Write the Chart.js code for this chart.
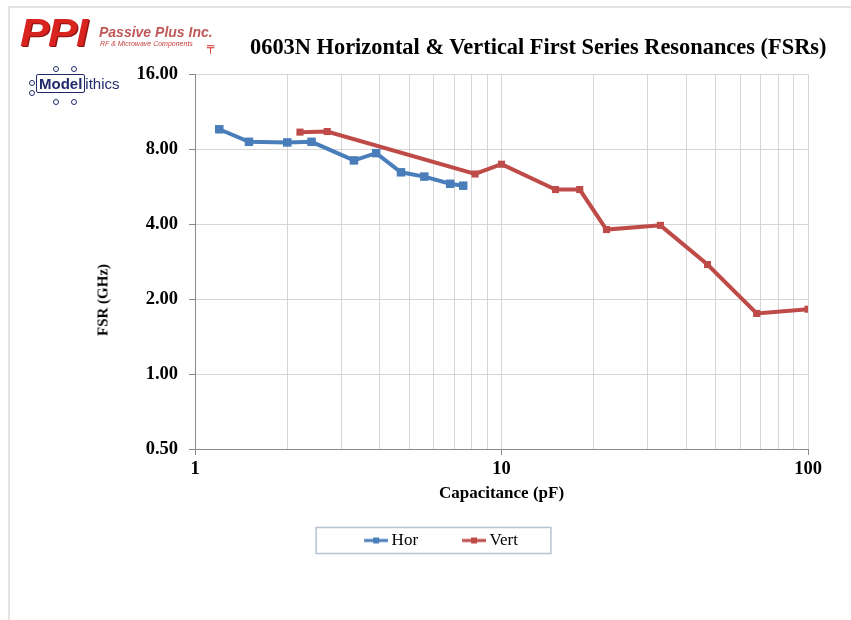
<!DOCTYPE html>
<html>
<head>
<meta charset="utf-8">
<script src="https://cdn.jsdelivr.net/npm/chart.js@4.4.0/dist/chart.umd.min.js"></script>
<style>
  html, body { margin: 0; padding: 0; background: #fff; }
  #wrap { position: relative; width: 851px; height: 620px; overflow: hidden; }
  #frame { position: absolute; left: 8px; top: 6px; width: 860px; height: 620px;
           border-left: 2px solid #e4e4e4; border-top: 2px solid #e4e4e4; }
  #chart { position: absolute; left: 0; top: 0; }
  #title { position: absolute; left: 250px; top: 34px; white-space: nowrap;
           font: bold 22.4px "Liberation Serif", serif; color: #000; }
  #ytitle { position: absolute; left: 103px; top: 300px; white-space: nowrap;
            transform: translate(-50%, -50%) rotate(-90deg);
            font: bold 15px "Liberation Serif", serif; color: #000; }
  #ppi { position: absolute; left: 20px; top: 12px; font: italic 900 38px "Liberation Sans", sans-serif;
         color: #d8231f; letter-spacing: -1px; text-shadow: 1px 1px 0 #8e1212;
         transform: scaleX(1.15); transform-origin: left top; }
  #passive { position: absolute; left: 99px; top: 24px; font: italic bold 14px "Liberation Sans", sans-serif;
             color: #c05858; }
  #rfmw { position: absolute; left: 100px; top: 40px; font: italic 7px "Liberation Sans", sans-serif; color: #c84040; }
  #gnd { position: absolute; left: 207px; top: 40px; font: 12px "DejaVu Sans", sans-serif; color: #d03030; }
  #model { position: absolute; left: 36px; top: 75px; font: 15px "Liberation Sans", sans-serif; color: #1f2a6b; }
  #model b { border: 1.5px solid #1f2a6b; padding: 0 2px; border-radius: 2px; }
  .pin { position: absolute; width: 4px; height: 4px; border: 1px solid #1f2a6b; border-radius: 50%; }
</style>
</head>
<body>
<div id="wrap">
  <div id="frame"></div>
  <canvas id="chart" width="851" height="620"></canvas>
  <div id="ppi">PPI</div>
  <div id="passive">Passive Plus Inc.</div>
  <div id="rfmw">RF &amp; Microwave Components</div>
  <div id="gnd">╤</div>
  <div id="model"><b>Model</b>ithics</div>
  <div class="pin" style="left:53px;top:66px"></div>
  <div class="pin" style="left:71px;top:66px"></div>
  <div class="pin" style="left:53px;top:99px"></div>
  <div class="pin" style="left:71px;top:99px"></div>
  <div class="pin" style="left:29px;top:80px"></div>
  <div class="pin" style="left:29px;top:90px"></div>
  <div id="title">0603N Horizontal &amp; Vertical First Series Resonances (FSRs)</div>
  <div id="ytitle">FSR (GHz)</div>
</div>
<script>
// capacitance (pF) and first series resonance (GHz)
const horCap = [1.2, 1.5, 2.0, 2.4, 3.3, 3.9, 4.7, 5.6, 6.8, 7.5];
const horFsr = [9.6, 8.55, 8.5, 8.55, 7.2, 7.7, 6.45, 6.2, 5.8, 5.7];
const vertCap = [2.2, 2.7, 8.2, 10, 15, 18, 22, 33, 47, 68, 100];
const vertFsr = [9.35, 9.4, 6.35, 6.95, 5.5, 5.5, 3.8, 3.95, 2.75, 1.75, 1.82];

const xTicks = [1, 2, 3, 4, 5, 6, 7, 8, 9, 10, 20, 30, 40, 50, 60, 70, 80, 90, 100];
const xLabels = [1, 10, 100];
const yTicks = [0.5, 1, 2, 4, 8, 16];

const serif = 'Liberation Serif';
const gridColor = '#d6d6d6';
const axisColor = '#8a8a8a';

// line + square marker icon for the legend
function legendIcon(color) {
  const c = document.createElement('canvas');
  c.width = 68;
  c.height = 12;
  const g = c.getContext('2d');
  g.strokeStyle = color;
  g.lineWidth = 3;
  g.beginPath();
  g.moveTo(44, 6);
  g.lineTo(68, 6);
  g.stroke();
  g.fillStyle = color;
  g.fillRect(53, 3, 6, 6);
  return c;
}

const legendBox = {
  id: 'legendBox',
  afterDraw(chart) {
    const hb = chart.legend.legendHitBoxes;
    if (!hb || !hb.length) return;
    const first = hb[0], last = hb[hb.length - 1];
    const left = first.left - 9;
    const right = last.left + last.width + 33;
    const cy = first.top + first.height / 2;
    const ctx = chart.ctx;
    ctx.save();
    ctx.strokeStyle = '#b7c2d2';
    ctx.lineWidth = 1.5;
    ctx.strokeRect(left, cy - 13, right - left, 26);
    ctx.restore();
  }
};

new Chart(document.getElementById('chart'), {
  type: 'line',
  data: {
    datasets: [{
      label: 'Hor',
      data: horCap.map((c, i) => ({ x: c, y: horFsr[i] })),
      borderColor: '#4a7ebb',
      backgroundColor: '#4a7ebb',
      borderWidth: 4,
      pointStyle: 'rect',
      pointRadius: 6,
      pointBorderWidth: 0,
      tension: 0
    }, {
      label: 'Vert',
      data: vertCap.map((c, i) => ({ x: c, y: vertFsr[i] })),
      borderColor: '#be4b48',
      backgroundColor: '#be4b48',
      borderWidth: 4,
      pointStyle: 'rect',
      pointRadius: 5,
      pointBorderWidth: 0,
      tension: 0
    }]
  },
  options: {
    responsive: false,
    animation: false,
    layout: { padding: { left: 35, right: 43, top: 74, bottom: 61 } },
    scales: {
      x: {
        type: 'logarithmic',
        min: 1,
        max: 100,
        afterBuildTicks: s => { s.ticks = xTicks.map(v => ({ value: v })); },
        afterFit: s => { s.height = 78; },
        ticks: {
          autoSkip: false,
          maxRotation: 0,
          padding: 3,
          color: '#000',
          font: { family: serif, size: 18.5, weight: 'bold' },
          callback: v => xLabels.includes(v) ? String(v) : ''
        },
        grid: {
          color: gridColor,
          tickLength: 6,
          tickColor: ctx => xLabels.includes(ctx.tick && ctx.tick.value) ? axisColor : 'rgba(0,0,0,0)'
        },
        border: { color: axisColor, width: 1 },
        title: {
          display: true,
          text: 'Capacitance (pF)',
          color: '#000',
          font: { family: serif, size: 17, weight: 'bold' },
          padding: { top: 0, bottom: 23 }
        }
      },
      y: {
        type: 'logarithmic',
        min: 0.5,
        max: 16,
        afterBuildTicks: s => { s.ticks = yTicks.map(v => ({ value: v })); },
        afterFit: s => { s.width = 160; },
        ticks: {
          padding: 11,
          color: '#000',
          font: { family: serif, size: 18.5, weight: 'bold' },
          callback: v => Number(v).toFixed(2)
        },
        grid: { color: gridColor, tickLength: 6, tickColor: axisColor },
        border: { color: axisColor, width: 1 }
      }
    },
    plugins: {
      legend: {
        position: 'bottom',
        labels: {
          padding: 5,
          usePointStyle: true,
          pointStyleWidth: 58,
          color: '#000',
          font: { family: serif, size: 17 },
          generateLabels: chart => chart.data.datasets.map((ds, i) => ({
            text: ds.label,
            pointStyle: legendIcon(ds.borderColor),
            fillStyle: ds.borderColor,
            strokeStyle: ds.borderColor,
            lineWidth: 0,
            hidden: false,
            datasetIndex: i,
            fontColor: '#000'
          }))
        }
      },
      tooltip: { enabled: false }
    }
  },
  plugins: [legendBox]
});
</script>
</body>
</html>
